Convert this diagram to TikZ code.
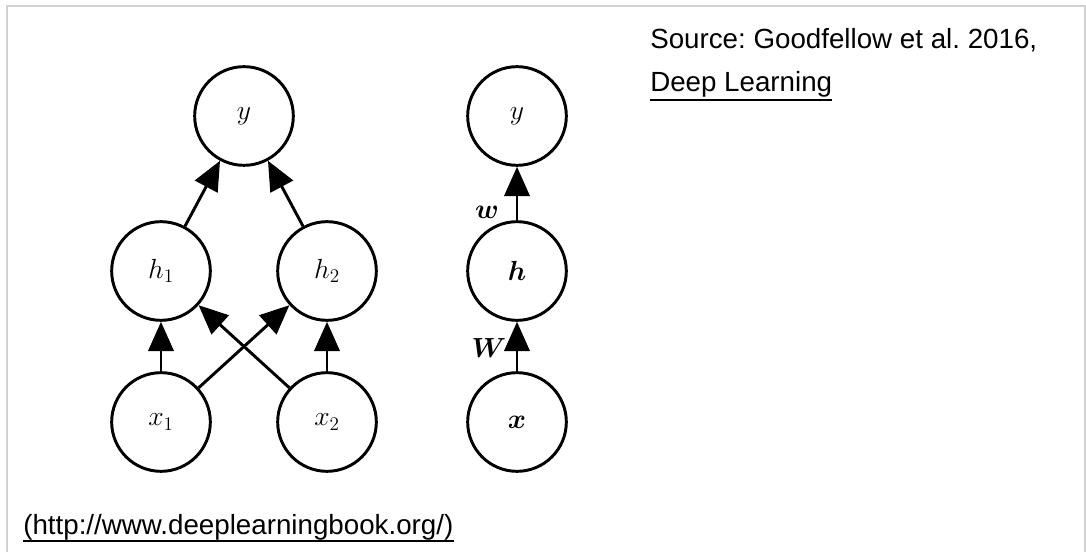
\documentclass[tikz,border=0pt]{standalone}
\usepackage{amsmath,bm}
\usepackage{fontspec}
\setmainfont{Liberation Sans}
\usetikzlibrary{arrows.meta}
\frenchspacing

\begin{document}
\begin{tikzpicture}[x=0.75pt,y=-0.75pt,
  unit/.style={circle,draw,line width=2.2pt,minimum size=74pt,inner sep=0pt,
    font=\fontsize{20.74}{25}\selectfont},
  edge/.style={line width=2.2pt,-{Triangle[length=22pt,width=19pt]}},
  wlabel/.style={inner sep=0pt,font=\fontsize{20.74}{25}\selectfont},
  caption/.style={anchor=base west,inner sep=0pt,font=\fontsize{20.8}{25}\selectfont},
  uline/.style={line width=1.5pt},
  frameline/.style={draw=black!18,line width=1.9pt}]
\useasboundingbox (0,0) rectangle (1086,552);
\draw[frameline] (7,552) -- (7,6) -- (1085,6) -- (1085,552);

% two-unit hidden layer network
\node[unit] (y)  at (244,116) {$y$};
\node[unit] (h1) at (161,271) {$h_1$};
\node[unit] (h2) at (327,271) {$h_2$};
\node[unit] (x1) at (161,422) {$x_1$};
\node[unit] (x2) at (327,422) {$x_2$};

\draw[edge] (x1) -- (h1);
\draw[edge] (x2) -- (h2);
\draw[edge] (x1) -- (h2);
\draw[edge] (x2) -- (h1);
\draw[edge] (h1) -- (y);
\draw[edge] (h2) -- (y);

% vector form of the same network
\node[unit] (yv) at (517,116) {$y$};
\node[unit] (hv) at (517,271) {$\bm{h}$};
\node[unit] (xv) at (517,422) {$\bm{x}$};

\draw[edge] (xv) -- (hv);
\draw[edge] (hv) -- (yv);
\node[wlabel] (wl) at (487,212) {$\bm{w}$};
\node[wlabel] (Wl) at (489,348) {$\bm{W}$};

% citation
\node[caption] (src) at (650,49) {Source: Goodfellow et al. 2016,};
\node[caption] (book) at (650,92) {Deep Learning};
\draw[uline] ([yshift=-6pt]book.base west) -- ([yshift=-6pt]book.base east);
\node[caption] (url) at (23,534) {(http://www.deeplearningbook.org/)};
\draw[uline] ([yshift=-5pt]url.base west) -- ([yshift=-5pt]url.base east);
\end{tikzpicture}
\end{document}
